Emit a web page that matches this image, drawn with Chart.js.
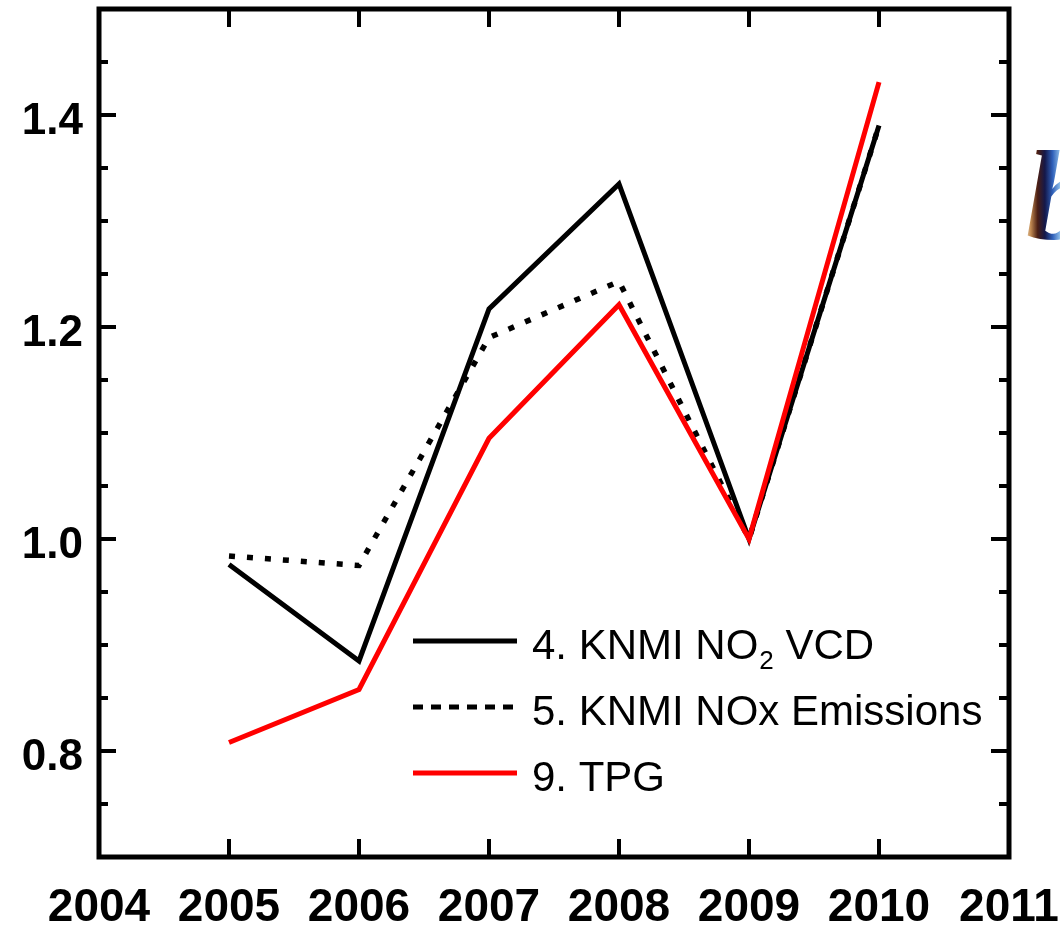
<!DOCTYPE html>
<html>
<head>
<meta charset="utf-8">
<script src="https://cdn.jsdelivr.net/npm/chart.js@4.4.1/dist/chart.umd.min.js"></script>
<style>
  html, body { margin: 0; padding: 0; background: #ffffff; overflow: hidden; }
  #wrap { width: 1060px; height: 925px; position: relative; }
</style>
</head>
<body>
<div id="wrap"><canvas id="c" width="1060" height="925"></canvas></div>
<script>
// Relative annual values (normalised to 2009 = 1.0)
const years = [2005, 2006, 2007, 2008, 2009, 2010];
const no2Vcd = [0.976, 0.885, 1.217, 1.335, 1.000, 1.390];
const noxEmissions = [0.984, 0.975, 1.190, 1.243, 1.000, 1.390];
const tpg = [0.808, 0.858, 1.095, 1.221, 1.000, 1.431];

const seriesNames = ['4. KNMI NO', '5. KNMI NOx Emissions', '9. TPG'];
const no2Subscript = '2';
const no2Suffix = ' VCD';

// Axis ticks
const xTickYears = [2004, 2005, 2006, 2007, 2008, 2009, 2010, 2011];
const xTickLabels = ['2004', '2005', '2006', '2007', '2008', '2009', '2010', '2011'];
const yMajorTicks = [0.8, 1.0, 1.2, 1.4];
const yMajorLabels = ['0.8', '1.0', '1.2', '1.4'];
const yMinorTicks = [0.75, 0.85, 0.9, 0.95, 1.05, 1.1, 1.15, 1.25, 1.3, 1.35, 1.45];

const toPoints = (vals) => vals.map((v, i) => ({ x: years[i], y: v }));

// Frame, inward ticks and tick labels drawn from the chart's own scales
const framePlugin = {
  id: 'frameAxes',
  afterDatasetsDraw(chart) {
    const { ctx, chartArea: a, scales } = chart;
    const xs = scales.x, ys = scales.y;
    ctx.save();
    ctx.strokeStyle = '#000';
    ctx.lineCap = 'butt';

    // ticks
    ctx.lineWidth = 4;
    ctx.beginPath();
    xTickYears.forEach(yr => {
      if (yr <= xs.min || yr >= xs.max) return;
      const px = xs.getPixelForValue(yr);
      ctx.moveTo(px, a.bottom); ctx.lineTo(px, a.bottom - 18);
      ctx.moveTo(px, a.top); ctx.lineTo(px, a.top + 18);
    });
    yMajorTicks.forEach(v => {
      const py = ys.getPixelForValue(v);
      ctx.moveTo(a.left, py); ctx.lineTo(a.left + 17, py);
      ctx.moveTo(a.right, py); ctx.lineTo(a.right - 18, py);
    });
    yMinorTicks.forEach(v => {
      const py = ys.getPixelForValue(v);
      ctx.moveTo(a.left, py); ctx.lineTo(a.left + 9, py);
      ctx.moveTo(a.right, py); ctx.lineTo(a.right - 10, py);
    });
    ctx.stroke();

    // box
    ctx.lineWidth = 5;
    ctx.lineJoin = 'miter';
    ctx.strokeRect(a.left, a.top, a.right - a.left, a.bottom - a.top);

    // tick labels
    ctx.fillStyle = '#000';
    ctx.font = 'bold 46px "Liberation Sans", Arial, sans-serif';
    ctx.textBaseline = 'alphabetic';
    ctx.textAlign = 'center';
    xTickYears.forEach((yr, i) => {
      ctx.fillText(xTickLabels[i], xs.getPixelForValue(yr), 921);
    });
    ctx.font = 'bold 44px "Liberation Sans", Arial, sans-serif';
    ctx.textAlign = 'right';
    yMajorTicks.forEach((v, i) => {
      ctx.fillText(yMajorLabels[i], 83, ys.getPixelForValue(v) + 19);
    });
    ctx.restore();
  }
};

// In-plot key for the three series
const keyPlugin = {
  id: 'keyBox',
  afterDatasetsDraw(chart) {
    const { ctx } = chart;
    const rows = [641, 707, 773];
    const x0 = 413, x1 = 517, tx = 532;
    ctx.save();
    chart.data.datasets.forEach((ds, i) => {
      const y = rows[i];
      ctx.beginPath();
      ctx.strokeStyle = ds.borderColor;
      ctx.lineWidth = 5;
      ctx.lineCap = 'butt';
      ctx.setLineDash(ds.keyDash || []);
      ctx.moveTo(x0, y); ctx.lineTo(x1, y);
      ctx.stroke();
      ctx.setLineDash([]);

      ctx.fillStyle = '#000';
      ctx.textAlign = 'left';
      ctx.textBaseline = 'alphabetic';
      ctx.font = '42px "Liberation Sans", Arial, sans-serif';
      const base = y + 18;
      ctx.fillText(ds.label, tx, base);
      if (ds.subscript) {
        let cx = tx + ctx.measureText(ds.label).width + 1;
        ctx.font = '26px "Liberation Sans", Arial, sans-serif';
        ctx.fillText(ds.subscript, cx, base + 10);
        cx += ctx.measureText(ds.subscript).width;
        ctx.font = '42px "Liberation Sans", Arial, sans-serif';
        ctx.fillText(ds.suffix, cx, base);
      }
    });
    ctx.restore();
  }
};

// Panel letter of the neighbouring figure panel, partly outside the canvas
const panelLetterPlugin = {
  id: 'panelLetter',
  afterDraw(chart) {
    const { ctx } = chart;
    ctx.save();
    const g = ctx.createLinearGradient(1024, 0, 1062, 0);
    g.addColorStop(0.0, '#f6e6c8');
    g.addColorStop(0.18, '#c08850');
    g.addColorStop(0.36, '#4a1e14');
    g.addColorStop(0.55, '#14184a');
    g.addColorStop(0.75, '#2f5fb8');
    g.addColorStop(1.0, '#a8d8f8');
    ctx.fillStyle = g;
    ctx.font = 'bold italic 128px "Liberation Serif", "Times New Roman", serif';
    ctx.textAlign = 'left';
    ctx.textBaseline = 'alphabetic';
    ctx.fillText('b', 1026, 238);
    ctx.restore();
  }
};

new Chart(document.getElementById('c'), {
  type: 'line',
  data: {
    datasets: [
      {
        label: seriesNames[0], subscript: no2Subscript, suffix: no2Suffix,
        data: toPoints(no2Vcd),
        borderColor: '#000000', borderWidth: 5, order: 1
      },
      {
        label: seriesNames[1],
        data: toPoints(noxEmissions),
        borderColor: '#000000', borderWidth: 5.5, borderDash: [6, 12],
        keyDash: [10, 8], order: 2
      },
      {
        label: seriesNames[2],
        data: toPoints(tpg),
        borderColor: '#ff0000', borderWidth: 5, order: 0
      }
    ]
  },
  options: {
    responsive: false,
    animation: false,
    layout: { padding: { left: 99, right: 51, top: 9, bottom: 68 } },
    elements: {
      point: { radius: 0, hoverRadius: 0 },
      line: { tension: 0, fill: false, borderJoinStyle: 'miter', borderCapStyle: 'butt' }
    },
    scales: {
      x: { type: 'linear', min: 2004, max: 2011, display: false },
      y: { type: 'linear', min: 0.7, max: 1.5, display: false }
    },
    plugins: { legend: { display: false }, tooltip: { enabled: false } }
  },
  plugins: [framePlugin, keyPlugin, panelLetterPlugin]
});
</script>
</body>
</html>
